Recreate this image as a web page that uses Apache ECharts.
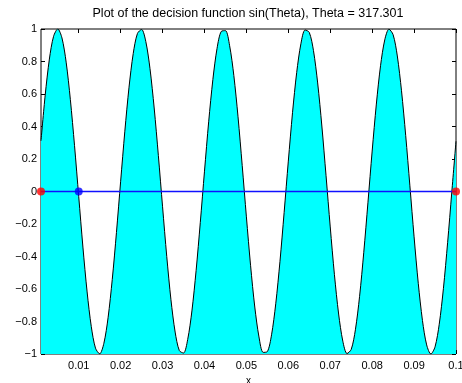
<!DOCTYPE html>
<html>
<head>
<meta charset="utf-8">
<script src="https://cdn.jsdelivr.net/npm/echarts@6/dist/echarts.min.js"></script>
<style>
html,body{margin:0;padding:0;background:#fff;}
#chart{width:462px;height:383px;}
</style>
</head>
<body>
<div id="chart"></div>
<script>
// x samples (0.001 ... 0.1) and decision function values
const xStart = 0.001;
const xStep = 0.001;
const curveValues = [
  0.312, 0.593, 0.815, 0.955, 1.000, 0.945, 0.796, 0.567, 0.282, -0.031,
  -0.342, -0.618, -0.832, -0.964, -0.999, -0.934, -0.777, -0.541, -0.252, 0.063,
  0.371, 0.642, 0.849, 0.972, 0.997, 0.923, 0.756, 0.514, 0.221, -0.094,
  -0.400, -0.666, -0.865, -0.979, -0.994, -0.910, -0.735, -0.487, -0.191, 0.125,
  0.429, 0.689, 0.881, 0.985, 0.990, 0.897, 0.714, 0.460, 0.160, -0.156,
  -0.457, -0.711, -0.895, -0.990, -0.985, -0.882, -0.691, -0.432, -0.129, 0.187,
  0.485, 0.733, 0.909, 0.994, 0.979, 0.867, 0.668, 0.403, 0.097, -0.218,
  -0.512, -0.754, -0.921, -0.997, -0.972, -0.851, -0.645, -0.374, -0.066, 0.249,
  0.538, 0.774, 0.933, 0.999, 0.965, 0.834, 0.620, 0.345, 0.035, -0.279,
  -0.565, -0.794, -0.944, -1.000, -0.956, -0.817, -0.596, -0.315, -0.003, 0.309
];
const zeroLineX = [0.001, 0.1];
const redPointsX = [0.001, 0.1];
const bluePointsX = [0.01];
const xTicks = [0.01, 0.02, 0.03, 0.04, 0.05, 0.06, 0.07, 0.08, 0.09, 0.1];
const xLabels = ['0.01','0.02','0.03','0.04','0.05','0.06','0.07','0.08','0.09','0.1'];
const titleText = 'Plot of the decision function sin(Theta), Theta = 317.301';
const xAxisName = 'x';

const curveData = curveValues.map((v, i) => [+(xStart + i * xStep).toFixed(3), v]);
const font = 'Liberation Sans, Arial, Helvetica, sans-serif';

const chart = echarts.init(document.getElementById('chart'), null, {renderer: 'canvas'});
const fmtY = v => {
  const r = Math.round(v * 10) / 10;
  if (r === 0) return '0';
  return (r < 0 ? '\u2212' : '') + String(Math.abs(r));
};
const xLabelFmt = v => {
  const idx = xTicks.findIndex(t => Math.abs(t - v) < 1e-9);
  return idx >= 0 ? xLabels[idx] : '';
};

chart.setOption({
  animation: false,
  backgroundColor: '#fff',
  graphic: [{
    type: 'text', x: 248, y: 7, z: 10,
    style: {text: titleText, textAlign: 'center', textVerticalAlign: 'top',
      font: '12.5px ' + font, fill: '#000'}
  }],
  grid: {left: 41, right: 6, top: 29, bottom: 29, outerBoundsMode: 'none', containLabel: false,
    show: true, borderColor: '#000', borderWidth: 1, backgroundColor: 'transparent'},
  xAxis: [{
    type: 'value', min: 0.001, max: 0.1, position: 'bottom',
    name: xAxisName, nameLocation: 'middle', nameGap: 19,
    nameTextStyle: {fontFamily: font, fontSize: 10, color: '#000'},
    axisLine: {show: false, onZero: false},
    axisTick: {show: true, inside: true, length: 4, customValues: xTicks, lineStyle: {color: '#000'}},
    axisLabel: {show: true, customValues: xTicks, formatter: xLabelFmt, margin: 6,
      fontFamily: font, fontSize: 11, color: '#000'},
    splitLine: {show: false}
  }, {
    type: 'value', min: 0.001, max: 0.1, position: 'top',
    axisLine: {show: false, onZero: false},
    axisTick: {show: true, inside: true, length: 4, customValues: xTicks, lineStyle: {color: '#000'}},
    axisLabel: {show: false},
    splitLine: {show: false}
  }],
  yAxis: [{
    type: 'value', min: -1, max: 1, interval: 0.2, position: 'left',
    axisLine: {show: false, onZero: false},
    axisTick: {show: true, inside: true, length: 4, lineStyle: {color: '#000'}},
    axisLabel: {formatter: fmtY, margin: 4, fontFamily: font, fontSize: 11, color: '#000'},
    splitLine: {show: false}
  }, {
    type: 'value', min: -1, max: 1, interval: 0.2, position: 'right',
    axisLine: {show: false, onZero: false},
    axisTick: {show: true, inside: true, length: 4, lineStyle: {color: '#000'}},
    axisLabel: {show: false},
    splitLine: {show: false}
  }],
  series: [{
    type: 'line', data: curveData, showSymbol: false, smooth: 0.3,
    lineStyle: {color: '#000', width: 1},
    areaStyle: {color: '#00ffff', opacity: 1, origin: 'start'},
    z: 2
  }, {
    type: 'line', data: zeroLineX.map(x => [x, 0]), showSymbol: false,
    itemStyle: {color: '#1010ff'},
    lineStyle: {color: '#1010ff', width: 1.3, opacity: 1}, z: 10
  }, {
    type: 'scatter', data: redPointsX.map(x => [x, 0]), symbolSize: 8,
    itemStyle: {color: '#ff0000'}, clip: false, z: 12
  }, {
    type: 'scatter', data: bluePointsX.map(x => [x, 0]), symbolSize: 8,
    itemStyle: {color: '#0000ff'}, clip: false, z: 12
  }]
});
</script>
</body>
</html>
